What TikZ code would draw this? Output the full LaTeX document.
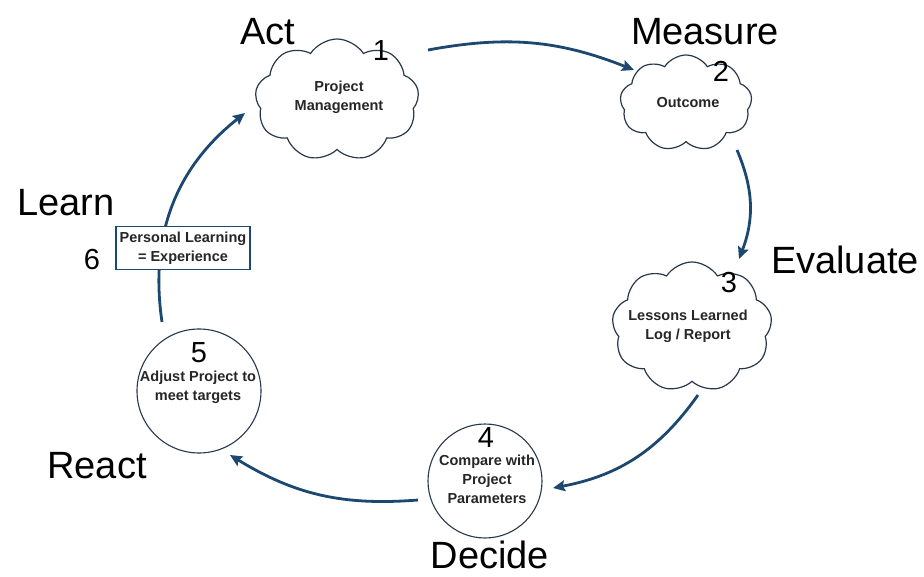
\documentclass[tikz,border=0pt]{standalone}
\usepackage{fontspec}
\setmainfont{Liberation Sans}
\usetikzlibrary{shapes.symbols,arrows.meta}
\definecolor{arrowblue}{RGB}{28,72,112}
\definecolor{outline}{RGB}{40,55,75}
\begin{document}
\begin{tikzpicture}[x=1pt,y=-1pt,
  big/.style={font=\fontsize{38}{40}\selectfont, text=black, inner sep=0pt},
  num/.style={font=\fontsize{29}{30}\selectfont, text=black, inner sep=0pt},
  small/.style={font=\fontsize{14.5}{19}\bfseries, align=center, text=black!85, inner sep=0pt},
  cloudbox/.style={cloud, cloud puffs=9, cloud puff arc=115, cloud ignores aspect, draw=outline, line width=1.2pt, fill=white},
  ringbox/.style={circle, draw=outline, line width=1.1pt, fill=white},
  flow/.style={draw=arrowblue, line width=2.8pt, -{Stealth[length=12pt,width=11pt,inset=2pt]}},
]
\useasboundingbox (0,0) rectangle (924,577);

% nodes
\node[cloudbox, minimum width=164pt, minimum height=122pt] (c1) at (337,100) {};
\node[cloudbox, minimum width=132pt, minimum height=96pt] (c2) at (686,103) {};
\node[cloudbox, minimum width=160pt, minimum height=130pt] (c3) at (692,327) {};
\node[ringbox, minimum size=114pt] (r4) at (485,481) {};
\node[ringbox, minimum size=124pt] (r5) at (199,391) {};

% connector end points
\coordinate (a1s) at (428,50);
\coordinate (a1e) at (634,70);
\coordinate (a2s) at (737,150);
\coordinate (a2e) at (739,259);
\coordinate (a3s) at (698,395);
\coordinate (a3e) at (553,488);
\coordinate (a4s) at (418,500);
\coordinate (a4e) at (230,455);
\coordinate (a5s) at (162,322);
\coordinate (a5e) at (245,113);

\draw[flow] (a1s) to[bend left=16] (a1e);
\draw[flow] (a2s) to[bend left=22] (a2e);
\draw[flow] (a3s) to[bend left=22] (a3e);
\draw[flow] (a4s) to[bend left=18] (a4e);
\draw[flow] (a5s) to[bend left=30] (a5e);

% learn box
\node[draw=arrowblue, line width=1.3pt, fill=white, minimum width=134pt, minimum height=43pt, small] (lb) at (183,248) {Personal Learning\\= Experience};

% texts in nodes
\node[small] (t1) at (339,97) {Project\\Management};
\node[num] (n1) at (381,51) {1};
\node[small] (t2) at (688,103) {Outcome};
\node[num] (n2) at (721,71) {2};
\node[small] (t3) at (688,326) {Lessons Learned\\Log / Report};
\node[num] (n3) at (729,283) {3};
\node[small] (t4) at (487,479) {Compare with\\Project\\Parameters};
\node[num] (n4) at (486,438) {4};
\node[small] (t5) at (198,387) {Adjust Project to\\meet targets};
\node[num] (n5) at (199,353) {5};
\node[num] (n6) at (92,260) {6};

% stage labels
\node[big] (lAct) at (268,32) {Act};
\node[big] (lMeasure) at (705,32) {Measure};
\node[big] (lEvaluate) at (845,260) {Evaluate};
\node[big] (lDecide) at (490,555) {Decide};
\node[big] (lReact) at (97,466) {React};
\node[big] (lLearn) at (66,203) {Learn};
\end{tikzpicture}
\end{document}
